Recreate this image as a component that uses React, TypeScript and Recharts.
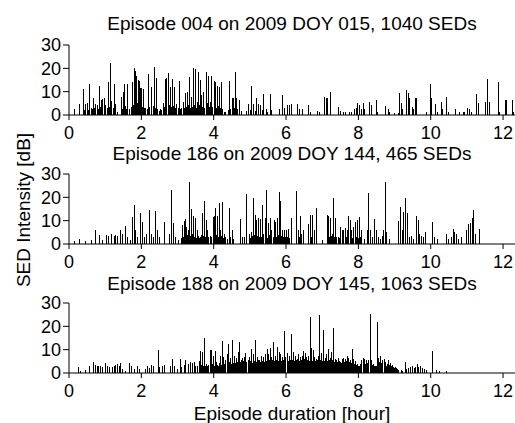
import { BarChart, Bar, XAxis, YAxis } from 'recharts';

type Sed = [number, number]; // [hour, dB]

const hourTicks = [0, 2, 4, 6, 8, 10, 12];
const dbTicks = [0, 10, 20, 30];

const ep004: Sed[] = [
  [0.16, 2.4], [0.3, 4.9], [0.39, 11.2], [0.43, 2.0], [0.46, 4.9], [0.5, 5.3], [0.53, 2.2], [0.57, 13.4],
  [0.61, 3.0], [0.65, 2.6], [0.68, 7.5], [0.71, 3.1], [0.74, 4.9], [0.78, 4.2], [0.81, 2.5], [0.85, 12.5],
  [0.88, 3.6], [0.9, 6.3], [0.94, 7.0], [0.97, 7.4], [1.0, 3.2], [1.02, 4.4], [1.06, 2.8], [1.09, 14.1],
  [1.12, 3.5], [1.15, 22.5], [1.18, 6.0], [1.22, 3.0], [1.26, 13.4], [1.29, 4.9], [1.34, 1.5], [1.44, 7.8],
  [1.47, 2.5], [1.5, 10.0], [1.54, 13.4], [1.57, 3.8], [1.6, 2.6], [1.63, 13.4], [1.67, 2.4], [1.72, 3.5],
  [1.75, 14.1], [1.78, 4.5], [1.81, 20.3], [1.83, 6.5], [1.85, 18.8], [1.88, 16.6], [1.9, 5.0], [1.92, 15.1],
  [1.95, 14.4], [1.97, 4.5], [1.99, 11.5], [2.01, 11.5], [2.03, 3.6], [2.05, 11.2], [2.08, 3.0], [2.11, 2.9],
  [2.16, 2.5], [2.2, 17.4], [2.24, 3.3], [2.29, 12.2], [2.33, 4.0], [2.37, 20.6], [2.4, 3.2], [2.42, 15.9],
  [2.46, 2.6], [2.5, 1.8], [2.54, 2.6], [2.57, 2.2], [2.6, 5.1], [2.63, 3.5], [2.66, 15.6], [2.69, 4.2],
  [2.71, 15.9], [2.74, 3.8], [2.76, 18.0], [2.79, 4.5], [2.82, 12.2], [2.84, 3.6], [2.86, 15.4], [2.89, 4.0],
  [2.92, 12.2], [2.95, 2.8], [2.98, 4.9], [3.02, 3.2], [3.05, 14.4], [3.09, 2.6], [3.12, 3.0], [3.16, 5.6],
  [3.19, 2.8], [3.21, 9.6], [3.25, 3.5], [3.28, 10.0], [3.31, 4.1], [3.34, 16.3], [3.37, 3.2], [3.4, 7.8],
  [3.42, 3.6], [3.44, 20.0], [3.47, 4.5], [3.49, 19.6], [3.52, 3.0], [3.54, 5.6], [3.56, 2.8], [3.58, 18.5],
  [3.61, 4.2], [3.64, 15.1], [3.67, 8.5], [3.7, 3.3], [3.72, 10.0], [3.76, 3.0], [3.81, 18.5], [3.83, 5.0],
  [3.85, 16.9], [3.88, 3.6], [3.9, 5.6], [3.93, 16.6], [3.97, 3.4], [4.01, 14.4], [4.03, 4.0], [4.05, 14.1],
  [4.09, 3.1], [4.12, 12.6], [4.14, 3.8], [4.16, 11.8], [4.19, 2.9], [4.22, 14.0], [4.25, 2.6], [4.3, 1.5],
  [4.34, 1.2], [4.4, 2.2], [4.43, 14.4], [4.47, 2.5], [4.51, 7.4], [4.54, 7.5], [4.57, 3.0], [4.6, 18.4],
  [4.64, 7.1], [4.67, 2.6], [4.71, 6.3], [4.77, 1.9], [4.92, 1.9], [4.97, 4.9], [5.01, 2.2], [5.05, 12.6],
  [5.1, 4.9], [5.15, 1.8], [5.19, 7.1], [5.24, 4.6], [5.3, 4.4], [5.35, 2.0], [5.39, 9.0], [5.45, 2.6],
  [5.5, 1.5], [5.56, 8.8], [5.6, 2.0], [5.82, 2.6], [5.89, 8.5], [5.95, 2.8], [6.05, 4.1], [6.09, 4.4],
  [6.14, 4.9], [6.32, 4.9], [6.37, 2.6], [6.45, 2.4], [6.63, 4.1], [6.67, 1.2], [6.88, 1.9], [6.93, 1.2],
  [7.06, 7.8], [7.11, 7.1], [7.16, 7.1], [7.22, 10.0], [7.46, 3.4], [7.5, 1.9], [7.59, 1.5], [7.65, 1.2],
  [7.76, 1.2], [7.8, 1.5], [7.89, 2.4], [7.94, 2.9], [7.99, 5.3], [8.03, 4.1], [8.08, 2.6], [8.13, 5.3],
  [8.17, 2.4], [8.31, 5.6], [8.36, 4.4], [8.49, 6.3], [8.54, 1.2], [8.75, 3.8], [8.82, 2.4], [8.86, 1.2],
  [9.0, 0.9], [9.1, 0.9], [9.14, 9.3], [9.19, 5.3], [9.23, 2.6], [9.34, 10.7], [9.39, 9.3], [9.42, 7.1],
  [9.49, 3.4], [9.53, 2.6], [9.58, 7.5], [9.62, 7.1], [9.88, 1.2], [9.99, 13.4], [10.02, 7.1], [10.14, 4.9],
  [10.2, 1.5], [10.3, 5.6], [10.34, 2.6], [10.43, 7.8], [10.48, 1.2], [10.69, 2.4], [10.8, 1.2], [10.9, 1.2],
  [10.94, 1.2], [11.03, 2.9], [11.08, 2.6], [11.13, 1.5], [11.28, 9.0], [11.33, 5.3], [11.52, 5.6], [11.57, 15.6],
  [11.63, 5.6], [11.87, 14.0], [11.91, 1.2], [12.06, 6.6], [12.1, 6.3], [12.26, 6.3], [12.3, 1.2],
];

const ep186: Sed[] = [
  [0.14, 1.2], [0.3, 2.3], [0.46, 1.3], [0.62, 1.6], [0.74, 6.0], [0.85, 3.8], [0.92, 1.6], [1.04, 3.8],
  [1.09, 3.4], [1.17, 4.5], [1.25, 3.4], [1.29, 3.8], [1.35, 3.4], [1.43, 6.0], [1.48, 4.5], [1.57, 7.7],
  [1.62, 3.1], [1.69, 1.9], [1.75, 11.5], [1.81, 16.9], [1.85, 6.0], [1.9, 3.1], [1.98, 13.3], [2.03, 9.6],
  [2.08, 3.1], [2.14, 4.5], [2.22, 14.7], [2.27, 4.5], [2.33, 3.1], [2.38, 14.3], [2.44, 6.0], [2.49, 3.1],
  [2.64, 9.6], [2.77, 4.5], [2.84, 23.1], [2.88, 8.9], [2.95, 3.1], [3.03, 1.6], [3.14, 8.2], [3.19, 10.0],
  [3.21, 10.7], [3.26, 7.4], [3.31, 6.0], [3.34, 26.4], [3.38, 15.0], [3.44, 11.8], [3.49, 11.2], [3.54, 6.0],
  [3.58, 3.4], [3.63, 3.1], [3.69, 13.3], [3.74, 18.4], [3.79, 10.4], [3.83, 6.0], [3.9, 3.4], [3.95, 3.1],
  [3.99, 11.5], [4.03, 11.8], [4.06, 15.5], [4.11, 11.8], [4.16, 17.4], [4.2, 6.0], [4.24, 18.0], [4.29, 4.5],
  [4.34, 3.1], [4.43, 15.5], [4.51, 6.0], [4.55, 2.3], [4.74, 10.7], [4.8, 3.1], [4.86, 3.1], [4.92, 21.3],
  [4.99, 4.5], [5.05, 5.3], [5.11, 19.9], [5.15, 12.6], [5.19, 10.4], [5.24, 11.1], [5.3, 10.7], [5.36, 16.9],
  [5.42, 11.1], [5.47, 23.1], [5.51, 8.9], [5.57, 11.1], [5.61, 6.0], [5.68, 10.4], [5.72, 9.6], [5.77, 11.1],
  [5.82, 22.5], [5.85, 18.4], [5.91, 6.0], [5.96, 6.0], [6.02, 6.0], [6.08, 6.3], [6.14, 11.1], [6.3, 22.8],
  [6.34, 6.0], [6.39, 12.1], [6.44, 4.5], [6.48, 6.0], [6.62, 8.5], [6.67, 12.6], [6.7, 3.1], [6.74, 12.3],
  [6.79, 6.0], [6.85, 15.5], [7.02, 1.6], [7.14, 12.6], [7.17, 12.1], [7.22, 11.1], [7.28, 4.5], [7.32, 19.9],
  [7.37, 11.1], [7.44, 3.1], [7.51, 7.4], [7.55, 6.0], [7.6, 6.0], [7.64, 6.7], [7.69, 6.0], [7.74, 11.8],
  [7.77, 10.4], [7.82, 6.0], [7.88, 7.4], [7.92, 9.6], [7.99, 10.4], [8.03, 11.4], [8.08, 6.0], [8.17, 2.3],
  [8.24, 6.0], [8.29, 22.0], [8.34, 6.0], [8.4, 3.1], [8.45, 10.7], [8.49, 6.0], [8.55, 3.1], [8.61, 2.3],
  [8.66, 3.4], [8.7, 6.0], [8.74, 26.7], [8.79, 5.3], [8.86, 2.3], [9.12, 10.0], [9.17, 15.9], [9.21, 6.0],
  [9.26, 13.6], [9.31, 19.6], [9.37, 13.3], [9.42, 3.1], [9.47, 3.4], [9.53, 2.3], [9.6, 11.8], [9.65, 10.4],
  [9.7, 4.5], [9.74, 3.4], [9.79, 3.1], [9.85, 5.3], [10.06, 9.6], [10.11, 3.1], [10.2, 2.3], [10.43, 4.5],
  [10.48, 2.3], [10.57, 3.1], [10.62, 6.6], [10.67, 5.3], [10.71, 4.5], [10.76, 2.3], [10.85, 3.1], [10.99, 6.0],
  [11.04, 8.5], [11.1, 8.9], [11.15, 11.1], [11.19, 14.7], [11.25, 4.5], [11.34, 6.3],
];

// weaker SEDs filling the dense stretches of episode 186
const ep186Low: Sed[] = [
  [3.1, 2.5], [3.17, 3.0], [3.24, 2.8], [3.29, 4.0], [3.36, 3.5], [3.41, 4.2], [3.47, 3.0], [3.52, 2.6],
  [3.61, 2.5], [3.66, 4.0], [3.72, 3.6], [3.77, 2.8], [3.86, 3.0], [3.93, 2.2], [4.01, 3.4], [4.09, 4.0],
  [4.14, 3.2], [4.18, 2.8], [4.22, 3.6], [4.27, 2.5], [4.39, 2.0], [4.47, 2.8], [5.02, 2.5], [5.08, 3.4],
  [5.13, 4.0], [5.17, 3.0], [5.22, 3.6], [5.27, 3.0], [5.33, 2.8], [5.39, 4.2], [5.45, 3.5], [5.49, 2.6],
  [5.54, 3.8], [5.59, 3.0], [5.65, 2.8], [5.7, 3.6], [5.75, 3.0], [5.8, 4.0], [5.88, 3.5], [5.93, 2.8],
  [5.99, 3.0], [6.05, 3.2], [6.11, 2.5], [6.37, 3.0], [6.42, 2.5], [7.2, 3.0], [7.25, 3.5], [7.35, 2.8],
  [7.4, 3.0], [7.48, 2.5], [7.58, 2.8], [7.67, 3.0], [7.72, 2.8], [7.8, 3.2], [7.85, 2.5], [7.95, 3.0],
  [8.01, 2.6], [8.06, 3.0],
];

const ep188: Sed[] = [
  [0.26, 2.5], [0.32, 1.0], [0.46, 1.4], [0.57, 3.2], [0.69, 4.6], [0.74, 3.6], [0.78, 3.2], [0.83, 2.8],
  [0.88, 3.2], [0.92, 2.5], [1.02, 4.2], [1.06, 3.2], [1.11, 2.5], [1.2, 2.5], [1.25, 3.2], [1.29, 3.6],
  [1.34, 3.9], [1.39, 2.8], [1.43, 4.2], [1.48, 1.7], [1.57, 1.0], [1.68, 4.5], [1.74, 2.8], [1.8, 1.7],
  [1.89, 2.8], [1.94, 1.7], [2.11, 1.7], [2.17, 3.2], [2.22, 2.2], [2.29, 3.6], [2.35, 3.2], [2.47, 9.7],
  [2.49, 2.5], [2.59, 3.2], [2.63, 3.6], [2.82, 2.8], [2.86, 6.1], [2.91, 3.2], [3.0, 1.7], [3.07, 6.1],
  [3.12, 2.5], [3.19, 3.6], [3.23, 5.4], [3.31, 3.9], [3.37, 4.6], [3.42, 4.2], [3.46, 4.6], [3.51, 2.8],
  [3.54, 3.2], [3.6, 5.1], [3.65, 9.3], [3.69, 9.0], [3.74, 14.8], [3.79, 3.9], [3.83, 3.2], [3.9, 9.7],
  [3.94, 10.0], [3.99, 7.5], [4.04, 9.4], [4.08, 4.6], [4.14, 3.2], [4.19, 7.5], [4.24, 13.6], [4.28, 6.8],
  [4.32, 5.4], [4.37, 8.3], [4.41, 12.3], [4.46, 6.5], [4.52, 14.1], [4.58, 7.5], [4.62, 6.5], [4.68, 9.0],
  [4.72, 13.2], [4.76, 5.4], [4.8, 6.5], [4.85, 6.8], [4.89, 8.6], [4.95, 5.4], [4.99, 6.8], [5.04, 10.4],
  [5.1, 8.3], [5.15, 14.1], [5.2, 6.8], [5.26, 5.4], [5.32, 7.5], [5.37, 6.8], [5.43, 8.0], [5.48, 10.4],
  [5.52, 8.3], [5.57, 10.9], [5.61, 6.8], [5.66, 13.3], [5.71, 7.5], [5.77, 11.2], [5.82, 9.0], [5.86, 8.3],
  [5.91, 6.8], [5.96, 18.0], [6.0, 6.8], [6.05, 8.6], [6.09, 7.5], [6.16, 16.7], [6.2, 9.0], [6.26, 7.5],
  [6.31, 6.1], [6.35, 8.3], [6.4, 6.8], [6.45, 7.5], [6.49, 9.4], [6.54, 8.6], [6.58, 6.8], [6.62, 7.5],
  [6.67, 24.2], [6.71, 10.9], [6.76, 10.0], [6.8, 6.8], [6.85, 6.1], [6.9, 7.5], [6.94, 24.9], [6.99, 8.6],
  [7.04, 18.4], [7.08, 6.5], [7.13, 8.3], [7.17, 10.4], [7.22, 6.5], [7.27, 9.0], [7.32, 19.1], [7.37, 6.1],
  [7.41, 5.4], [7.46, 6.5], [7.51, 4.6], [7.55, 6.1], [7.6, 6.5], [7.64, 6.1], [7.69, 7.1], [7.74, 6.5],
  [7.78, 5.7], [7.83, 10.4], [7.88, 6.1], [7.92, 5.1], [7.97, 3.9], [8.03, 3.2], [8.08, 5.4], [8.13, 6.5],
  [8.17, 6.1], [8.22, 5.7], [8.27, 5.4], [8.33, 25.4], [8.37, 5.7], [8.43, 3.9], [8.48, 3.2], [8.52, 21.7],
  [8.57, 6.5], [8.61, 7.1], [8.66, 5.4], [8.71, 6.1], [8.75, 4.6], [8.8, 3.9], [8.84, 5.4], [8.89, 4.2],
  [8.94, 3.6], [8.98, 2.5], [9.03, 2.5], [9.08, 1.7], [9.12, 1.3], [9.19, 1.3], [9.23, 1.0], [9.31, 4.9],
  [9.34, 1.7], [9.4, 2.2], [9.44, 2.5], [9.49, 2.8], [9.54, 2.2], [9.58, 2.5], [9.63, 3.9], [9.67, 2.5],
  [9.72, 2.8], [9.77, 2.2], [9.83, 1.7], [9.88, 1.3], [10.06, 9.3], [10.16, 1.3], [10.25, 1.0], [10.43, 0.7],
];

// the dense floor of weak SEDs in episode 188
const ep188Low: Sed[] = [
  [3.62, 3.0], [3.67, 3.5], [3.71, 2.8], [3.77, 3.2], [3.81, 2.6], [3.87, 3.4], [3.92, 3.0], [3.96, 3.8],
  [4.01, 3.2], [4.06, 4.0], [4.11, 3.5], [4.16, 4.2], [4.21, 3.6], [4.26, 4.4], [4.3, 3.8], [4.34, 4.5],
  [4.39, 4.0], [4.43, 4.6], [4.49, 3.9], [4.55, 4.5], [4.6, 4.2], [4.65, 4.8], [4.7, 4.0], [4.74, 4.6],
  [4.78, 4.2], [4.82, 5.0], [4.87, 4.4], [4.92, 4.8], [4.97, 4.0], [5.02, 5.2], [5.07, 4.5], [5.12, 5.0],
  [5.18, 4.6], [5.23, 5.4], [5.29, 4.8], [5.34, 5.0], [5.4, 4.6], [5.45, 5.2], [5.5, 4.8], [5.54, 5.6],
  [5.59, 4.8], [5.63, 5.4], [5.68, 5.0], [5.74, 5.6], [5.79, 5.0], [5.84, 5.4], [5.88, 5.0], [5.93, 5.6],
  [5.98, 5.2], [6.03, 5.8], [6.07, 5.0], [6.12, 5.6], [6.14, 4.8], [6.18, 5.4], [6.23, 5.0], [6.28, 5.6],
  [6.33, 5.2], [6.37, 5.0], [6.42, 5.6], [6.47, 5.2], [6.52, 5.8], [6.56, 5.0], [6.6, 5.4], [6.64, 5.0],
  [6.69, 5.6], [6.73, 5.2], [6.78, 5.8], [6.82, 5.0], [6.87, 5.4], [6.92, 5.0], [6.96, 5.6], [7.01, 5.2],
  [7.06, 5.0], [7.1, 5.4], [7.15, 5.0], [7.19, 5.6], [7.24, 5.0], [7.29, 5.4], [7.34, 4.8], [7.39, 5.2],
  [7.43, 4.6], [7.48, 5.0], [7.53, 4.4], [7.57, 5.0], [7.62, 4.6], [7.66, 5.0], [7.71, 4.4], [7.76, 4.8],
  [7.8, 4.2], [7.85, 4.6], [7.9, 4.0], [7.94, 3.6], [8.0, 3.0], [8.05, 3.8], [8.1, 4.2], [8.15, 4.6],
  [8.19, 4.0], [8.24, 4.4], [8.29, 4.0], [8.35, 4.2], [8.4, 3.6], [8.45, 3.0], [8.5, 2.8], [8.54, 4.0],
  [8.59, 4.6], [8.63, 4.2], [8.68, 4.0], [8.73, 3.6], [8.77, 3.2], [8.82, 3.0], [8.86, 3.6], [8.91, 3.0],
  [8.96, 2.6], [9.0, 2.2], [9.05, 2.0], [9.1, 1.5],
];

const titles = [
  'Episode 004 on 2009 DOY 015, 1040 SEDs',
  'Episode 186 on 2009 DOY 144,  465 SEDs',
  'Episode 188 on 2009 DOY 145, 1063 SEDs',
];

const toRows = (list: Sed[]) =>
  list.slice().sort((a, b) => a[0] - b[0]).map(([t, db]) => ({ t, db }));

const W = 515;
const TICK_FONT = 18;
const TEXT_FONT = 19;

// one-pixel spike centred on the slot recharts gives the bar
const Spike = (p: any) => {
  if (!p.height) return null;
  return (
    <rect x={p.x + p.width / 2 - 0.5} y={p.y} width={1} height={p.height} fill="#000" shapeRendering="crispEdges" />
  );
};

function Panel({ rows, top, plotTop, plotBottom }: { rows: { t: number; db: number }[]; top: number; plotTop: number; plotBottom: number }) {
  const axisH = 30;
  return (
    <div style={{ position: 'absolute', left: 0, top }}>
      <BarChart width={W} height={plotBottom - top + axisH} data={rows} margin={{ top: plotTop - top, right: 0, bottom: 0, left: 0 }}>
        <XAxis
          type="number"
          dataKey="t"
          domain={[0, 12.33]}
          ticks={hourTicks}
          interval={0}
          height={axisH}
          tickSize={5}
          tickMargin={6}
          stroke="#000"
          tick={{ fill: '#000', fontSize: TICK_FONT }}
        />
        <YAxis
          type="number"
          domain={[0, 30]}
          ticks={dbTicks}
          interval={0}
          width={69}
          tickSize={6}
          tickMargin={2}
          stroke="#000"
          tick={{ fill: '#000', fontSize: TICK_FONT }}
        />
        <Bar dataKey="db" fill="#000" barSize={1} shape={Spike} isAnimationActive={false} />
      </BarChart>
    </div>
  );
}

export default function App() {
  return (
    <div style={{ position: 'absolute', left: 0, top: 0, width: W, height: 423, background: '#fff', fontFamily: 'Arial, "Liberation Sans", sans-serif' }}>
      <Panel rows={toRows(ep004)} top={0} plotTop={45} plotBottom={115} />
      <Panel rows={toRows([...ep186, ...ep186Low])} top={130} plotTop={174} plotBottom={244} />
      <Panel rows={toRows([...ep188, ...ep188Low])} top={260} plotTop={303} plotBottom={373} />
      <svg width={W} height={423} style={{ position: 'absolute', left: 0, top: 0, pointerEvents: 'none' }}>
        <g fontSize={TEXT_FONT} fill="#000" textAnchor="middle" style={{ whiteSpace: 'pre' }}>
          <text x={292} y={29.5}>{titles[0]}</text>
          <text x={292} y={160}>{titles[1]}</text>
          <text x={292} y={290}>{titles[2]}</text>
          <text x={292} y={420}>Episode duration [hour]</text>
          <text x={30} y={210} transform="rotate(-90, 30, 210)">SED Intensity [dB]</text>
        </g>
      </svg>
    </div>
  );
}
